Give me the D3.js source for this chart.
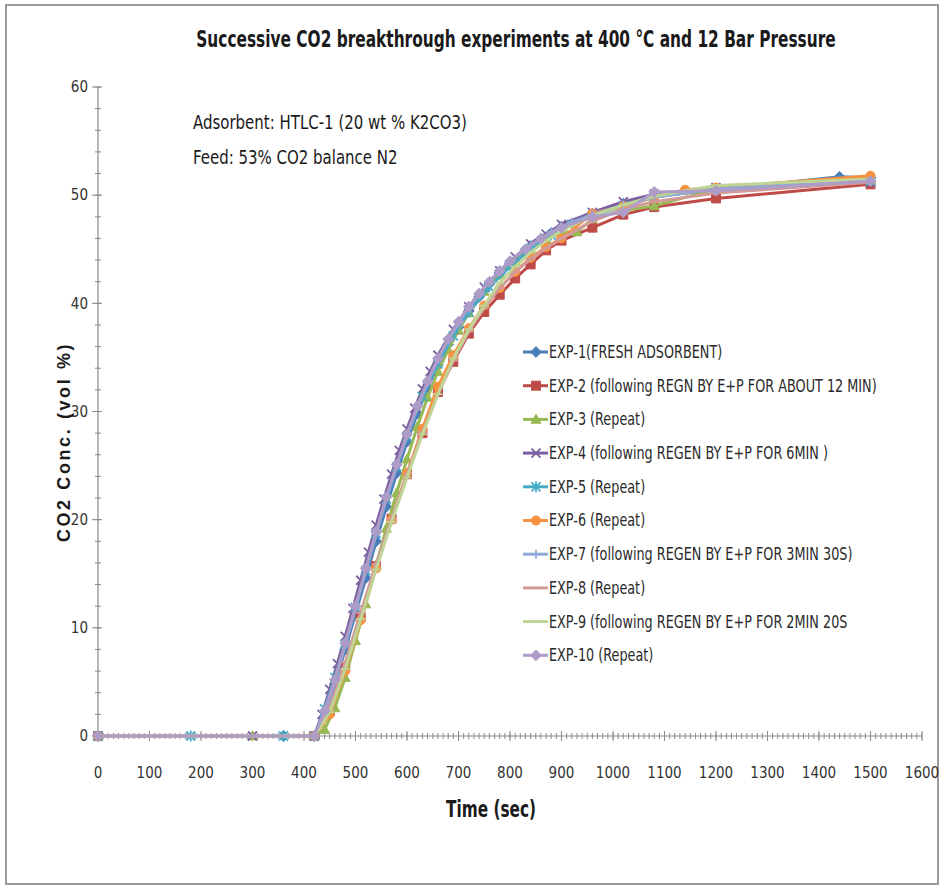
<!DOCTYPE html>
<html><head><meta charset="utf-8">
<script src="https://cdn.jsdelivr.net/npm/d3@7"></script>
<style>
html,body{margin:0;padding:0;background:#fff;}
svg{display:block;}
</style></head>
<body>
<script>
// ---------- data ----------
const chartTitle = "Successive CO2 breakthrough experiments at 400 \u00B0C and 12 Bar Pressure";
const noteLines = ["Adsorbent: HTLC-1 (20 wt % K2CO3)", "Feed: 53% CO2 balance N2"];
const xTitle = "Time (sec)";
const yTitle = "CO2 Conc.  (vol %)";
const xTicks = [0,100,200,300,400,500,600,700,800,900,1000,1100,1200,1300,1400,1500,1600];
const yTicks = [0,10,20,30,40,50,60];

const seriesNames = [
  "EXP-1(FRESH ADSORBENT)",
  "EXP-2 (following REGN BY E+P FOR ABOUT 12 MIN)",
  "EXP-3 (Repeat)",
  "EXP-4 (following REGEN BY E+P FOR 6MIN )",
  "EXP-5 (Repeat)",
  "EXP-6 (Repeat)",
  "EXP-7 (following REGEN BY E+P FOR 3MIN 30S)",
  "EXP-8 (Repeat)",
  "EXP-9 (following  REGEN BY E+P FOR 2MIN 20S",
  "EXP-10 (Repeat)"
];

const t1 = [0,360,420,440,460,480,500,520,540,560,580,600,620,640,660,680,700,720,740,760,780,800,840,880,900,960,1020,1080,1440,1500];
const v1 = [0,0,0,1.8,4.8,8.0,11.3,14.6,18.0,21.2,24.3,27.2,29.8,32.2,34.3,36.2,37.8,39.3,40.6,41.8,42.8,43.7,45.3,46.5,47.1,48.3,49.2,49.9,51.7,51.6];

const t2 = [0,420,450,480,510,540,570,600,630,660,690,720,750,780,810,840,870,900,960,1020,1080,1200,1500];
const v2 = [0,0,2.3,6.4,11.0,15.7,20.1,24.2,28.0,31.8,34.6,37.2,39.2,40.8,42.3,43.6,44.9,45.8,47.0,48.2,48.9,49.7,51.0];

const t3 = [0,300,420,440,460,480,500,520,540,560,580,600,620,640,660,680,700,720,750,780,810,840,870,900,930,960,1020,1080,1200,1500];
const v3 = [0,0,0,0.6,2.6,5.4,8.8,12.2,15.8,19.2,22.5,25.6,28.6,31.3,33.7,35.7,37.5,39.1,41.1,42.6,43.9,45.0,45.9,46.6,46.6,47.8,48.6,49.0,50.6,51.4];

const t4 = [0,300,420,435,450,465,480,495,510,525,540,555,570,585,600,615,630,645,660,690,720,750,780,810,840,870,900,960,1020,1080,1200,1500];
const v4 = [0,0,0,2.0,4.3,6.7,9.2,11.8,14.4,17.0,19.5,21.9,24.2,26.4,28.4,30.3,32.1,33.7,35.2,37.6,39.7,41.5,43.0,44.3,45.5,46.4,47.3,48.4,49.4,50.1,50.7,51.2];

const t5 = [0,180,360,420,440,460,480,500,520,540,560,580,600,630,660,690,720,760,800,840,880,920,960,1020,1080,1200,1500];
const v5 = [0,0,0,0,2.5,5.4,8.5,11.9,15.3,18.7,21.9,24.9,27.7,31.4,34.4,37.0,39.2,41.5,43.4,45.0,46.3,47.3,48.1,49.0,49.8,50.6,51.3];

const t6 = [0,420,450,480,510,540,570,600,630,660,690,720,750,780,810,840,870,900,960,1020,1080,1140,1200,1500];
const v6 = [0,0,2.0,6.0,10.7,15.5,20.0,24.3,28.4,32.3,35.2,37.7,39.8,41.4,42.9,44.2,45.2,46.0,48.3,49.0,49.8,50.5,50.7,51.8];

const t7 = [0,420,440,460,480,500,520,540,560,580,600,620,640,660,680,700,720,740,760,780,800,840,880,920,960,1020,1080,1200,1500];
const v7 = [0,0,2.0,5.0,8.4,11.8,15.3,18.7,22.0,25.0,27.8,30.4,32.7,34.8,36.6,38.2,39.6,40.9,42.0,43.0,43.9,45.4,46.6,47.5,48.2,49.1,49.8,50.6,51.3];

const t8 = [0,420,450,480,510,540,570,600,630,660,690,720,750,780,810,840,870,900,960,1020,1080,1200,1500];
const v8 = [0,0,2.6,6.8,11.4,15.9,20.1,24.2,28.1,31.6,34.7,37.4,39.6,41.4,42.9,44.1,45.1,46.0,47.6,48.7,49.4,50.2,51.2];

const t9 = [0,420,450,480,510,540,570,600,630,660,690,720,750,780,810,840,870,900,960,1020,1080,1200,1500];
const v9 = [0,0,2.2,6.2,10.8,15.4,19.8,23.9,27.9,31.6,34.9,37.6,39.8,41.9,43.4,44.7,45.8,46.7,48.1,49.1,49.9,50.9,51.5];

const t10 = [0,420,440,460,480,500,520,540,560,580,600,620,640,660,680,700,720,740,760,780,800,830,860,900,960,1020,1080,1200,1500];
const v10 = [0,0,2.3,5.2,8.6,12.0,15.5,18.9,22.1,25.1,27.9,30.5,32.8,34.9,36.7,38.3,39.7,40.9,42.0,43.0,43.9,45.0,46.0,47.0,48.0,48.4,50.3,50.4,51.3];

const seriesTimes = [t1,t2,t3,t4,t5,t6,t7,t8,t9,t10];
const seriesValues = [v1,v2,v3,v4,v5,v6,v7,v8,v9,v10];

// ---------- styles ----------
const colors = ["#4A7EBB","#BE4B48","#98B954","#7D60A0","#46AAC5","#F69240","#8EA9D6","#D39A98","#BFD595","#AE9CC8"];
const markers = ["diamond","square","triangle","x","asterisk","circle","plus","dash","dash","diamond"];

const W = 941, H = 888;
const svg = d3.select("body").append("svg").attr("width", W).attr("height", H);
svg.append("rect").attr("x",0).attr("y",0).attr("width",W).attr("height",H).attr("fill","#fff");
svg.append("rect").attr("x",6).attr("y",5).attr("width",932).attr("height",879)
  .attr("fill","none").attr("stroke","#9a9a9a").attr("stroke-width",2);

const x = d3.scaleLinear().domain([0,1600]).range([98,922]);
const y = d3.scaleLinear().domain([0,60]).range([736,87]);

const fontNarrow = "'Liberation Sans Narrow','DejaVu Sans Condensed','Roboto Condensed',sans-serif";

function fitWidth(node, target, anchorX){
  const w = node.getComputedTextLength();
  const sx = target / w;
  node.setAttribute("transform",`translate(${anchorX},0) scale(${sx},1) translate(${-anchorX},0)`);
}

// title
const titleNode = svg.append("text").attr("x",516).attr("y",47).attr("text-anchor","middle")
  .attr("font-family",fontNarrow).attr("font-weight","bold").attr("font-size",23)
  .attr("fill","#1a1a1a").text(chartTitle).node();
fitWidth(titleNode, 640, 516);

// notes
const noteG = svg.append("g").attr("font-family",fontNarrow).attr("font-size",19).attr("fill","#1a1a1a");
noteLines.forEach((s,i)=>{
  noteG.append("text").attr("x",193).attr("y",129+i*35).text(s);
});
(function(){
  const nodes = noteG.selectAll("text").nodes();
  const w0 = nodes[0].getComputedTextLength();
  const sx = 274 / w0;
  nodes.forEach(n=>{ n.setAttribute("transform",`translate(193,0) scale(${sx},1) translate(-193,0)`); });
})();

// axes
const axisColor = "#8a8a8a";
const gx = svg.append("g").attr("transform",`translate(0,${y(0)})`);
gx.selectAll("line.minor").data(d3.range(0,1601,10)).enter().append("line")
  .attr("x1",d=>x(d)).attr("x2",d=>x(d)).attr("y1",-3).attr("y2",3)
  .attr("stroke",axisColor).attr("stroke-width",1);
gx.selectAll("line.major").data(xTicks).enter().append("line")
  .attr("x1",d=>x(d)).attr("x2",d=>x(d)).attr("y1",-5).attr("y2",5)
  .attr("stroke",axisColor).attr("stroke-width",1);
gx.append("line").attr("x1",x(0)).attr("x2",x(1600)).attr("stroke",axisColor).attr("stroke-width",1.2);
gx.selectAll("text").data(xTicks).enter().append("text")
  .attr("x",d=>x(d)).attr("y",42).attr("text-anchor","middle")
  .attr("font-family",fontNarrow).attr("font-size",15).attr("fill","#333")
  .text(d=>d);

const gy = svg.append("g").attr("transform",`translate(${x(0)},0)`);
gy.selectAll("line.minor").data(d3.range(0,61,2)).enter().append("line")
  .attr("y1",d=>y(d)).attr("y2",d=>y(d)).attr("x1",-3).attr("x2",3)
  .attr("stroke",axisColor).attr("stroke-width",1);
gy.selectAll("line.major").data(yTicks).enter().append("line")
  .attr("y1",d=>y(d)).attr("y2",d=>y(d)).attr("x1",-6).attr("x2",4)
  .attr("stroke",axisColor).attr("stroke-width",1);
gy.append("line").attr("y1",y(0)).attr("y2",y(60)).attr("stroke",axisColor).attr("stroke-width",1.2);
gy.selectAll("text").data(yTicks).enter().append("text")
  .attr("x",-10).attr("y",d=>y(d)).attr("dy","0.35em").attr("text-anchor","end")
  .attr("font-family",fontNarrow).attr("font-size",15).attr("fill","#333")
  .text(d=>d);

// axis titles
const xtNode = svg.append("text").attr("x",491).attr("y",817).attr("text-anchor","middle")
  .attr("font-family",fontNarrow).attr("font-weight","bold").attr("font-size",23).attr("fill","#1a1a1a")
  .text(xTitle).node();
fitWidth(xtNode, 90, 491);
svg.append("text").attr("transform","translate(70,442) rotate(-90)").attr("text-anchor","middle")
  .attr("font-family","'Liberation Sans','Arial',sans-serif").attr("font-weight","bold").attr("font-size",18)
  .attr("letter-spacing",2.6).attr("fill","#1a1a1a")
  .text(yTitle);

// marker factory
function markerPath(type, s){
  const h = s/2;
  switch(type){
    case "diamond": return `M0,${-h*1.2}L${h*1.2},0L0,${h*1.2}L${-h*1.2},0Z`;
    case "square": return `M${-h},${-h}H${h}V${h}H${-h}Z`;
    case "triangle": return `M0,${-h*1.15}L${h*1.1},${h*0.85}L${-h*1.1},${h*0.85}Z`;
    case "circle": return d3.symbol(d3.symbolCircle, s*s*0.8)();
    case "x": return `M${-h},${-h}L${h},${h}M${h},${-h}L${-h},${h}`;
    case "asterisk": return `M${-h},${-h}L${h},${h}M${h},${-h}L${-h},${h}M0,${-h*1.2}V${h*1.2}`;
    case "plus": return `M${-h},0H${h}M0,${-h}V${h}`;
    case "dash": return `M${-h},0H${h}`;
  }
}
const strokeOnly = new Set(["x","asterisk","plus","dash"]);

const line = d3.line().x(d=>x(d[0])).y(d=>y(d[1]));
const plot = svg.append("g");
seriesNames.forEach((name,i)=>{
  const pts = seriesTimes[i].map((t,j)=>[t, seriesValues[i][j]]);
  const g = plot.append("g");
  g.append("path").datum(pts).attr("d",line).attr("fill","none")
    .attr("stroke",colors[i]).attr("stroke-width",3).attr("stroke-linejoin","round");
  const m = markers[i];
  const size = 9;
  g.selectAll("path.m").data(pts).enter().append("path")
    .attr("transform",d=>`translate(${x(d[0])},${y(d[1])})`)
    .attr("d",markerPath(m,size))
    .attr("fill",strokeOnly.has(m)?"none":colors[i])
    .attr("stroke",colors[i]).attr("stroke-width",strokeOnly.has(m)?1.8:1);
});

// legend
const lg = svg.append("g");
const legY0 = 352, legStep = 33.7;
seriesNames.forEach((name,i)=>{
  const yy = legY0 + i*legStep;
  lg.append("line").attr("x1",523).attr("x2",548).attr("y1",yy).attr("y2",yy)
    .attr("stroke",colors[i]).attr("stroke-width",3);
  const m = markers[i];
  lg.append("path").attr("transform",`translate(536,${yy})`).attr("d",markerPath(m,9))
    .attr("fill",strokeOnly.has(m)?"none":colors[i]).attr("stroke",colors[i])
    .attr("stroke-width",strokeOnly.has(m)?1.8:1);
  lg.append("text").attr("class","lt").attr("x",549).attr("y",yy).attr("dy","0.35em")
    .attr("font-family",fontNarrow).attr("font-size",17).attr("fill","#2a2a2a").text(name);
});
(function(){
  const nodes = lg.selectAll("text.lt").nodes();
  const w = nodes[1].getComputedTextLength();
  const sx = 328 / w;
  nodes.forEach(n=>{ n.setAttribute("transform",`translate(549,0) scale(${sx},1) translate(-549,0)`); });
})();
</script>
</body></html>
